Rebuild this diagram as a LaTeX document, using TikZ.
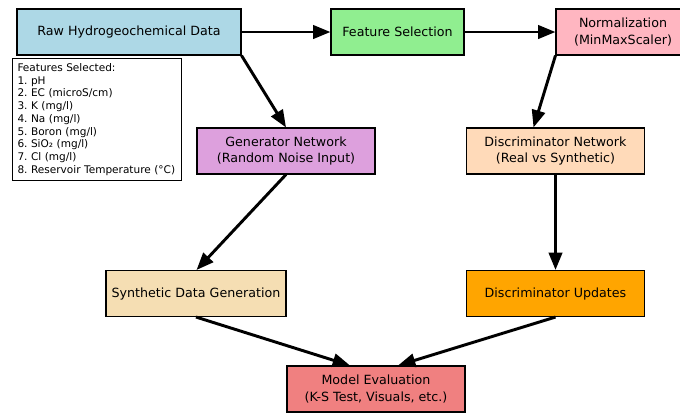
\documentclass[tikz,border=0pt]{standalone}
\usepackage{fontspec}
\setmainfont{DejaVu Sans}
\usepackage{xcolor}
\usetikzlibrary{arrows.meta,positioning}
\definecolor{ganBlue}{RGB}{173,216,230}
\definecolor{ganGreen}{RGB}{144,238,144}
\definecolor{ganPink}{RGB}{255,182,193}
\definecolor{ganPlum}{RGB}{221,160,221}
\definecolor{ganPeach}{RGB}{255,218,185}
\definecolor{ganWheat}{RGB}{245,222,179}
\definecolor{ganOrange}{RGB}{255,165,0}
\definecolor{ganCoral}{RGB}{240,128,128}
\frenchspacing

\begin{document}
\begin{tikzpicture}[x=0.75pt, y=-0.75pt, font=\fontsize{9.5}{12.5}\selectfont]
\tikzstyle{stage}=[draw=black, line width=0.8pt, minimum height=34.5pt, align=center, inner sep=0pt]
\tikzstyle{flow}=[-{Triangle[length=13pt,width=10pt]}, line width=2.2pt, black]

\useasboundingbox (0,0) rectangle (680,412);
\clip (0,0) rectangle (680,412);

\node[stage, fill=ganBlue, minimum width=168pt] (raw) at (129,32) {Raw Hydrogeochemical Data};
\node[stage, fill=ganGreen, minimum width=99.75pt] (feat) at (397.5,32) {Feature Selection};
\node[stage, fill=ganPink, minimum width=100.5pt] (norm) at (623,32) {Normalization\\(MinMaxScaler)};

\node[draw=black, line width=0.75pt, anchor=north west, inner sep=3.75pt, text width=119pt,
      minimum height=89pt, align=left, font=\fontsize{7.9}{9.55}\selectfont] (list) at (12,58)
  {Features Selected:\\1. pH\\2. EC (microS/cm)\\3. K (mg/l)\\4. Na (mg/l)\\5. Boron (mg/l)\\6. SiO₂ (mg/l)\\7. Cl (mg/l)\\8. Reservoir Temperature (°C)};

\node[stage, fill=ganPlum, minimum width=133.5pt] (gen) at (286,151) {Generator Network\\(Random Noise Input)};
\node[stage, fill=ganPeach, minimum width=134pt] (disc) at (555.5,151) {Discriminator Network\\(Real vs Synthetic)};

\node[stage, fill=ganWheat, minimum width=135pt] (synth) at (196,293.5) {Synthetic Data Generation};
\node[stage, fill=ganOrange, minimum width=134pt] (upd) at (555.5,293.5) {Discriminator Updates};

\node[stage, fill=ganCoral, minimum width=133.5pt] (eval) at (376,389) {Model Evaluation\\(K-S Test, Visuals, etc.)};

\draw[flow] (raw) -- (feat);
\draw[flow] (feat) -- (norm);
\draw[flow] (raw.south east) -- (gen.north);
\draw[flow] (norm.south west) -- ([xshift=-16.5pt]disc.north);
\draw[flow] (gen.south) -- ([xshift=-67.5pt]synth.north east);
\draw[flow] (disc) -- (upd);
\draw[flow] (synth.south) -- ([xshift=-19.5pt]eval.north);
\draw[flow] (upd.south) -- ([xshift=16.5pt]eval.north);
\end{tikzpicture}
\end{document}
